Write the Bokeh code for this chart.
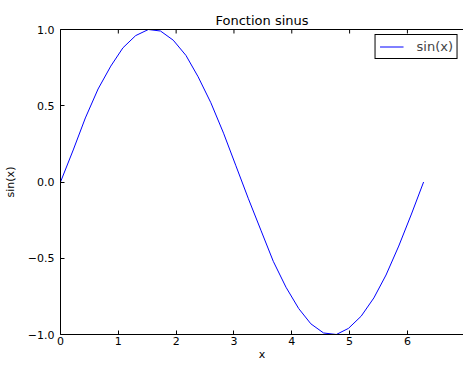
import math
from bokeh.plotting import figure
from bokeh.models import Range1d, LinearAxis, FixedTicker, Legend, LegendItem
from bokeh.embed import file_html
from bokeh.resources import INLINE

# Data
x_vals = [0.00, 0.22, 0.43, 0.65, 0.87, 1.08, 1.30, 1.52, 1.73, 1.95,
          2.17, 2.38, 2.60, 2.82, 3.03, 3.25, 3.47, 3.68, 3.90, 4.12,
          4.33, 4.55, 4.77, 4.98, 5.20, 5.42, 5.63, 5.85, 6.07, 6.28]
sin_vals = [0.00, 0.21, 0.42, 0.61, 0.76, 0.88, 0.96, 1.00, 0.99, 0.93,
            0.83, 0.69, 0.52, 0.32, 0.11, -0.11, -0.32, -0.52, -0.69, -0.83,
            -0.93, -0.99, -1.00, -0.96, -0.88, -0.76, -0.61, -0.42, -0.21, 0.00]
x_ticks = [0, 1, 2, 3, 4, 5, 6, 7]
y_ticks = [-1.0, -0.5, 0.0, 0.5, 1.0]
y_tick_labels = ["\u22121.0", "\u22120.5", "0.0", "0.5", "1.0"]
x_start, x_end = 0, 7
y_start, y_end = -1.0, 1.0
title_text = "Fonction sinus"
x_label = "x"
y_label = "sin(x)"
series_label = "sin(x)"

FONT = "DejaVu Sans"

p = figure(frame_width=403, frame_height=305, output_backend="svg",
           toolbar_location=None,
           x_range=Range1d(x_start, 6.97), y_range=Range1d(y_start, y_end),
           min_border=0, x_axis_location=None, y_axis_location=None)
p.title.text = title_text
p.title.text_font = FONT
p.title.text_font_size = "13px"
p.title.text_font_style = "normal"
p.title.text_color = "black"
p.title.align = "center"
p.title.offset = 0
p.title.standoff = 4
p.title.padding = dict(top=8, bottom=0, left=0, right=0)
p.outline_line_color = None
p.background_fill_color = "white"
p.border_fill_color = "white"
p.xgrid.visible = False
p.ygrid.visible = False

def style_axis(ax):
    ax.axis_line_color = "black"
    ax.axis_line_width = 1
    ax.major_tick_in = 4
    ax.major_tick_out = 0
    ax.minor_tick_in = 0
    ax.minor_tick_out = 0
    ax.major_tick_line_color = "black"
    ax.major_label_text_font = FONT
    ax.major_label_text_font_size = "11px"
    ax.major_label_text_color = "black"
    ax.axis_label_text_font = FONT
    ax.axis_label_text_font_style = "normal"
    ax.axis_label_text_font_size = "11px"
    ax.axis_label_text_color = "black"

xb = LinearAxis(ticker=FixedTicker(ticks=x_ticks), axis_label=x_label)
style_axis(xb)
xb.major_label_standoff = 2
xb.axis_label_standoff = 0
p.add_layout(xb, "below")

# top spine (no ticks, no labels)
xt = LinearAxis(ticker=FixedTicker(ticks=[]))
style_axis(xt)
xt.major_label_standoff = 0
p.add_layout(xt, "above")

yl = LinearAxis(ticker=FixedTicker(ticks=y_ticks), axis_label=y_label)
style_axis(yl)
yl.major_label_standoff = 6
yl.axis_label_standoff = 8
yl.major_label_overrides = {t: s for t, s in zip(y_ticks, y_tick_labels)}
p.add_layout(yl, "left")

# inward tick marks on the top spine
p.scatter(x=x_ticks, y=[y_end] * len(x_ticks), marker="dash", size=8,
          angle=math.pi / 2, line_color="black", line_width=1)

r = p.line(x_vals, sin_vals, line_color="blue", line_width=1)

legend = Legend(items=[LegendItem(label=series_label, renderers=[r])],
                location="top_right", margin=5, padding=4, spacing=0,
                glyph_width=24, glyph_height=15, label_height=15,
                label_standoff=13, label_text_font=FONT,
                label_text_font_size="13px", border_line_color="black",
                border_line_width=1, border_line_alpha=1,
                background_fill_color="white", background_fill_alpha=1)
p.add_layout(legend, "center")

open("out.html", "w").write(file_html(p, INLINE))
